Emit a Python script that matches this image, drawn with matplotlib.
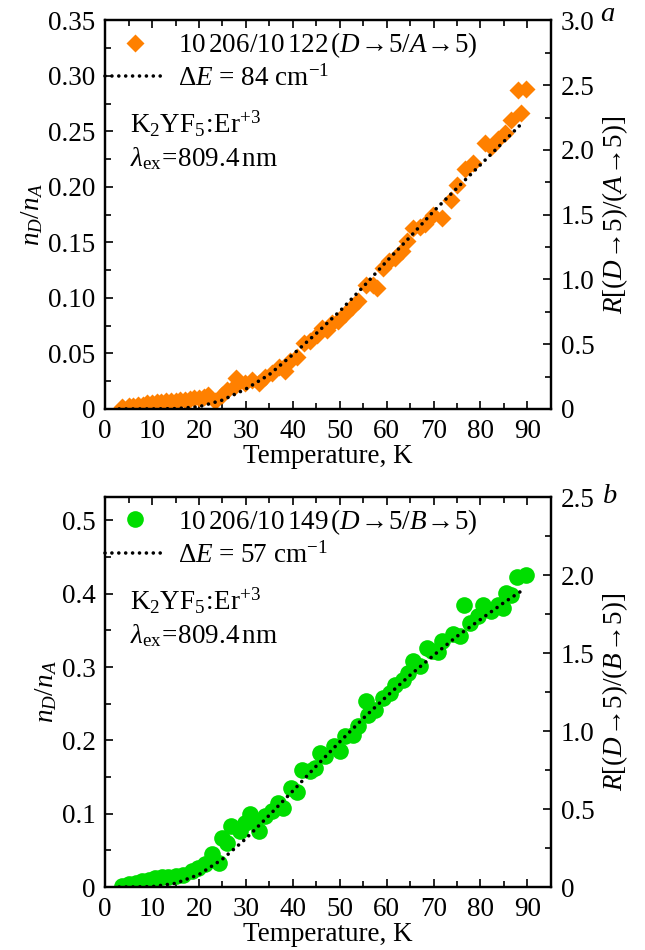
import matplotlib
matplotlib.use("Agg")
import matplotlib.pyplot as plt
from matplotlib.ticker import MultipleLocator, FuncFormatter

plt.rcParams['font.family'] = ['Liberation Serif', 'DejaVu Serif']
plt.rcParams['mathtext.fontset'] = 'custom'
plt.rcParams['mathtext.rm'] = 'Liberation Serif'
plt.rcParams['mathtext.it'] = 'Liberation Serif:italic'
plt.rcParams['mathtext.bf'] = 'Liberation Serif:bold'

# панель a: 10206/10122 (D->5 / A->5)
temp_a = [3.5, 5, 6, 7, 8, 9, 10, 11, 12, 13, 14, 15, 16, 17, 18, 19, 20, 21, 22, 23.5,
          24.9, 26, 27.4, 28, 29.9, 31.3, 32.7, 34.1, 35.5, 37, 38.4, 39.4, 40.9, 42.3,
          43.7, 45.1, 46.2, 47.2, 48.3, 49.7, 51.1, 52.6, 54, 55.7, 57.2, 57.9, 59.3,
          60.4, 61.8, 63.2, 64.3, 65.7, 67.1, 68.2, 69.9, 71.7, 73.8, 74.9, 76.7, 78.4,
          80.9, 82.3, 83.8, 85.2, 86.6, 88.7, 88.0, 89.8]
ratio_a = [0.002, 0.003, 0.003, 0.004, 0.004, 0.005, 0.005, 0.006, 0.006, 0.007, 0.007,
           0.007, 0.008, 0.008, 0.009, 0.010, 0.010, 0.011, 0.013, 0.007,
           0.013, 0.017, 0.020, 0.028, 0.023, 0.026, 0.023, 0.029, 0.032, 0.038, 0.034,
           0.043, 0.047, 0.059, 0.061, 0.067, 0.073, 0.071, 0.077, 0.079, 0.086, 0.092,
           0.097, 0.112, 0.112, 0.109, 0.127, 0.133, 0.136, 0.142, 0.151, 0.163, 0.164,
           0.167, 0.175, 0.172, 0.188, 0.202, 0.216, 0.222, 0.240, 0.236, 0.243, 0.249,
           0.260, 0.267, 0.287, 0.288]
fit_t_a = [3, 10, 15, 20, 25, 30, 35, 40, 45, 50, 55, 60, 65, 70, 75, 80, 85, 89]
fit_a = [0.0, 0.0, 0.0003, 0.002, 0.008, 0.018, 0.031, 0.049, 0.068, 0.088, 0.110,
         0.133, 0.155, 0.178, 0.199, 0.220, 0.241, 0.258]

# панель b: 10206/10149 (D->5 / B->5)
temp_b = [3.6, 5, 6.5, 7.9, 9.3, 10.7, 12.1, 13.5, 15, 16.7, 18.5, 19.9, 21.3, 22.8, 24.2,
          24.9, 26, 26.9, 28.8, 29.9, 30.9, 31.6, 32.8, 34.1, 35.5, 36.8, 38, 39.6, 40.9,
          41.9, 43.7, 44.8, 45.8, 46.9, 48.7, 50.1, 51.1, 52.9, 54, 55.7, 56.1, 57.5,
          59.3, 60.7, 61.8, 63.5, 64.6, 65.7, 67.1, 68.5, 69.6, 71, 71.7, 74.2, 75.6,
          76.5, 77.7, 79.5, 80.6, 82.3, 83.8, 84.8, 85.5, 86.6, 87.7, 89.8]
ratio_b = [0.001, 0.004, 0.006, 0.008, 0.009, 0.012, 0.013, 0.014, 0.015, 0.017, 0.022,
           0.026, 0.031, 0.045, 0.033, 0.067, 0.060, 0.083, 0.076, 0.088, 0.099, 0.090,
           0.077, 0.097, 0.104, 0.115, 0.108, 0.135, 0.129, 0.160, 0.158, 0.163, 0.183,
           0.179, 0.192, 0.185, 0.206, 0.208, 0.220, 0.254, 0.235, 0.242, 0.258, 0.265,
           0.276, 0.283, 0.292, 0.308, 0.301, 0.326, 0.322, 0.320, 0.335, 0.345, 0.342,
           0.385, 0.360, 0.370, 0.385, 0.376, 0.385, 0.381, 0.401, 0.399, 0.423, 0.426]
fit_t_b = [3, 5, 10, 15, 20, 25, 30, 35, 40, 45, 50, 55, 60, 65, 70, 75, 80, 85, 89]
fit_b = [0.0, 0.0, 0.0005, 0.005, 0.017, 0.038, 0.066, 0.098, 0.131, 0.165, 0.198,
         0.230, 0.260, 0.289, 0.316, 0.342, 0.365, 0.388, 0.405]

FS = 19.5
dots = (0, (0.01, 1.9))


def fmt(dec):
    return FuncFormatter(lambda v, p: '0' if abs(v) < 1e-9 else f'{v:.{dec}f}')


def style(ax):
    for s in ax.spines.values():
        s.set_linewidth(1.6)
    ax.tick_params(which='both', direction='in', labelsize=FS, width=1.2, pad=7)
    ax.tick_params(which='major', length=6)
    ax.tick_params(which='minor', length=4)


fig = plt.figure(figsize=(6.45, 9.5), dpi=100)
ax1 = fig.add_axes([0.163, 0.5695, 0.691, 0.409])
ax2 = fig.add_axes([0.163, 0.0663, 0.691, 0.4105])

panels = [
    (ax1, temp_a, ratio_a, fit_t_a, fit_a, 'D', '#ff8000', 9.5,
     r'$10\,206/10\,122\,(D\!\rightarrow\!5/A\!\rightarrow\!5)$',
     r'$\Delta E$ = 84 cm$^{-1}$', 0.35, 0.05, 3.0, 2,
     r'$R[(D\!\rightarrow\!5)/(A\!\rightarrow\!5)]$'),
    (ax2, temp_b, ratio_b, fit_t_b, fit_b, 'o', '#00dd00', 12,
     r'$10\,206/10\,149\,(D\!\rightarrow\!5/B\!\rightarrow\!5)$',
     r'$\Delta E$ = 57 cm$^{-1}$', 0.532, 0.1, 2.5, 1,
     r'$R[(D\!\rightarrow\!5)/(B\!\rightarrow\!5)]$'),
]

for (ax, t, r, ft, fv, mk, col, ms, lab, fitlab, ymax, ystep, rmax, dec, rlab) in panels:
    ax.plot(t, r, ls='none', marker=mk, ms=ms, color=col, mec='none', label=lab, zorder=2)
    ax.plot(ft, fv, ls=dots, lw=2.6, color='black', dash_capstyle='round',
            label=fitlab, zorder=3)
    ax.set_xlim(0, 95)
    ax.set_ylim(0, ymax)
    ax.xaxis.set_major_locator(MultipleLocator(10))
    ax.xaxis.set_minor_locator(MultipleLocator(5))
    ax.yaxis.set_major_locator(MultipleLocator(ystep))
    ax.yaxis.set_minor_locator(MultipleLocator(ystep / 2))
    ax.yaxis.set_major_formatter(fmt(dec))
    ax.xaxis.set_major_formatter(fmt(0))
    style(ax)
    ax.tick_params(top=True, which='both')
    ax.set_xlabel('Temperature, K', fontsize=FS, labelpad=0)
    ax.set_ylabel(r'$n_D/n_A$', fontsize=FS, labelpad=2)

    axr = ax.twinx()
    axr.set_ylim(0, rmax)
    axr.yaxis.set_major_locator(MultipleLocator(0.5))
    axr.yaxis.set_minor_locator(MultipleLocator(0.25))
    axr.yaxis.set_major_formatter(fmt(1))
    style(axr)
    axr.set_ylabel(rlab, fontsize=FS, labelpad=4)

    ax.legend(loc='upper left', bbox_to_anchor=(0.0, 0.975), frameon=False,
              fontsize=FS, handlelength=2.2, handletextpad=0.5,
              borderpad=0, borderaxespad=0, labelspacing=0.2, numpoints=1)
    ax.text(0.055, 0.735, r'K$_2$YF$_5\!:\!$Er$^{+3}$', transform=ax.transAxes,
            fontsize=FS, va='center', ha='left')
    ax.text(0.055, 0.645, r'$\lambda_{\rm ex}\!=\!809.4\,$nm', transform=ax.transAxes,
            fontsize=FS, va='center', ha='left')

fig.text(0.93, 0.985, 'a', fontsize=FS + 1, style='italic', va='center')
fig.text(0.935, 0.477, 'b', fontsize=FS + 1, style='italic', va='center')

fig.savefig('out.png', dpi=100)
